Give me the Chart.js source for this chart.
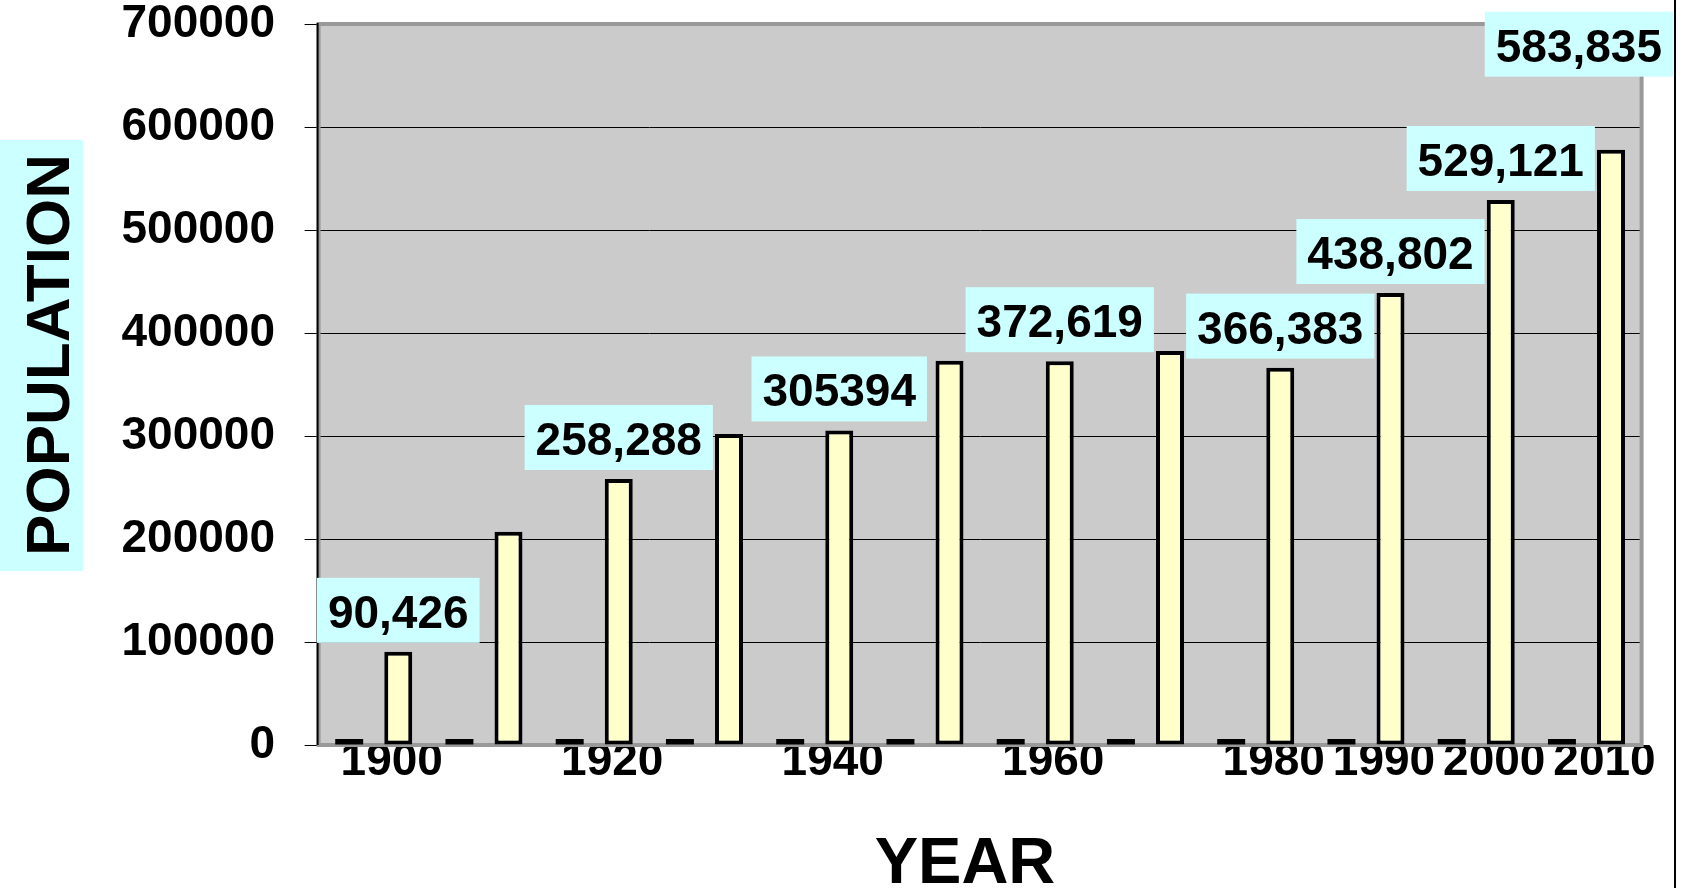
<!DOCTYPE html>
<html>
<head>
<meta charset="utf-8">
<title>Population by year</title>
<script src="https://cdn.jsdelivr.net/npm/chart.js@4.4.1/dist/chart.umd.min.js"></script>
<style>
  html, body { margin: 0; padding: 0; background: #fff; }
  canvas { display: block; }
</style>
</head>
<body>
<canvas id="popChart" width="1688" height="888"></canvas>
<script>
// categories (one per decade) and the labels shown under the axis
const years = ['1900', '1910', '1920', '1930', '1940', '1950', '1960', '1970', '1980', '1990', '2000', '2010'];
const yearLabels = ['1900', '', '1920', '', '1940', '', '1960', '', '1980', '1990', '2000', '2010'];

// population per decade
const population = [90426, 207000, 258288, 302000, 305394, 373000, 372619, 382600, 366383, 438802, 529121, 578000];
// second series: all zero, shows up as the little black dashes on the baseline
const secondSeries = [0, 0, 0, 0, 0, 0, 0, 0, 0, 0, 0, 0];

// texts of the cyan boxes above the bars
const valueLabels = ['90,426', null, '258,288', null, '305394', null, '372,619', null, '366,383', '438,802', '529,121', '583,835'];

const yTicks = [0, 100000, 200000, 300000, 400000, 500000, 600000, 700000];

const FONT = "'Liberation Sans', Arial, sans-serif";

// gray plot area with its frame, the two titles and the value boxes
const decorations = {
    id: 'decorations',
    beforeDraw(chart) {
        const { ctx, chartArea: a } = chart;
        ctx.save();
        ctx.fillStyle = '#cbcbcb';
        ctx.fillRect(a.left, a.top, a.right - a.left, a.bottom - a.top);
        ctx.restore();
    },
    beforeDatasetsDraw(chart) {
        const { ctx, chartArea: a } = chart;
        ctx.save();
        ctx.strokeStyle = '#999999';
        ctx.lineWidth = 4;
        ctx.strokeRect(a.left, a.top, a.right - a.left, a.bottom - a.top);
        ctx.strokeStyle = '#000';
        ctx.lineWidth = 2;
        ctx.beginPath();
        ctx.moveTo(a.left - 1, a.top - 1);
        ctx.lineTo(a.left - 1, a.bottom);
        ctx.stroke();
        ctx.restore();
    },
    afterDraw(chart, args, opts) {
        const { ctx } = chart;
        ctx.save();

        // y title on its cyan box
        ctx.fillStyle = '#ccffff';
        ctx.fillRect(0, 140, 83, 431);
        ctx.fillStyle = '#000';
        ctx.font = 'bold 62px ' + FONT;
        ctx.textAlign = 'center';
        ctx.textBaseline = 'alphabetic';
        ctx.translate(69, 355);
        ctx.rotate(-Math.PI / 2);
        ctx.fillText('POPULATION', 0, 0);
        ctx.setTransform(1, 0, 0, 1, 0, 0);

        // x title
        ctx.font = 'bold 65px ' + FONT;
        ctx.fillText('YEAR', 965, 883);

        // value boxes
        const meta = chart.getDatasetMeta(1);
        ctx.font = 'bold 46px ' + FONT;
        valueLabels.forEach((txt, i) => {
            if (!txt) return;
            const bar = meta.data[i];
            const w = ctx.measureText(txt).width + 22;
            const h = 65;
            let left = bar.x - w / 2;
            if (left + w > opts.rightLimit) left = opts.rightLimit - w;
            const lift = (opts.lift && opts.lift[i]) || 0;
            const top = bar.y - 9 - lift - h;
            ctx.fillStyle = '#ccffff';
            ctx.fillRect(left, top, w, h);
            ctx.fillStyle = '#000';
            ctx.fillText(txt, left + w / 2, top + 50);
        });

        // thin border line on the right
        ctx.strokeStyle = '#000';
        ctx.lineWidth = 2;
        ctx.beginPath();
        ctx.moveTo(1675, 0);
        ctx.lineTo(1675, 888);
        ctx.stroke();
        ctx.restore();
    }
};

const ctx = document.getElementById('popChart').getContext('2d');

const popChart = new Chart(ctx, {
    type: 'bar',
    data: {
        labels: years,
        datasets: [{
            label: 'Series 1',
            data: secondSeries,
            backgroundColor: '#000',
            borderWidth: 0,
            minBarLength: 6,
            clip: false
        }, {
            label: 'Population',
            data: population,
            backgroundColor: '#ffffcc',
            borderColor: '#000',
            borderWidth: 4,
            borderSkipped: false
        }]
    },
    options: {
        responsive: false,
        animation: false,
        categoryPercentage: 0.89,
        barPercentage: 0.57,
        layout: {
            padding: { left: 0, top: 24, right: 46.4, bottom: 0 }
        },
        plugins: {
            legend: { display: false },
            tooltip: { enabled: false },
            decorations: {
                rightLimit: 1673,
                lift: { 11: 64 }
            }
        },
        scales: {
            x: {
                grid: { display: false, drawTicks: false },
                border: { display: false },
                ticks: {
                    autoSkip: false,
                    maxRotation: 0,
                    labelOffset: 18,
                    padding: -6,
                    color: '#000',
                    font: { family: FONT, size: 46, weight: 'bold', lineHeight: 1 },
                    callback: (val, index) => yearLabels[index]
                },
                afterFit: (scale) => { scale.height = 143; }
            },
            y: {
                min: 0,
                max: 700000,
                grid: { color: '#000', lineWidth: 1, tickLength: 14 },
                border: { display: false },
                afterBuildTicks: (scale) => {
                    scale.ticks = yTicks.map(v => ({ value: v }));
                },
                ticks: {
                    padding: 29.6,
                    color: '#000',
                    font: { family: FONT, size: 46, weight: 'bold', lineHeight: 1 },
                    callback: (val) => String(val)
                },
                afterFit: (scale) => {
                    scale.width = 318.6;
                    // keep the tick padding from pushing the plot top down
                    scale.paddingTop = 0;
                    scale.paddingBottom = 0;
                }
            }
        }
    },
    plugins: [decorations]
});
</script>
</body>
</html>
